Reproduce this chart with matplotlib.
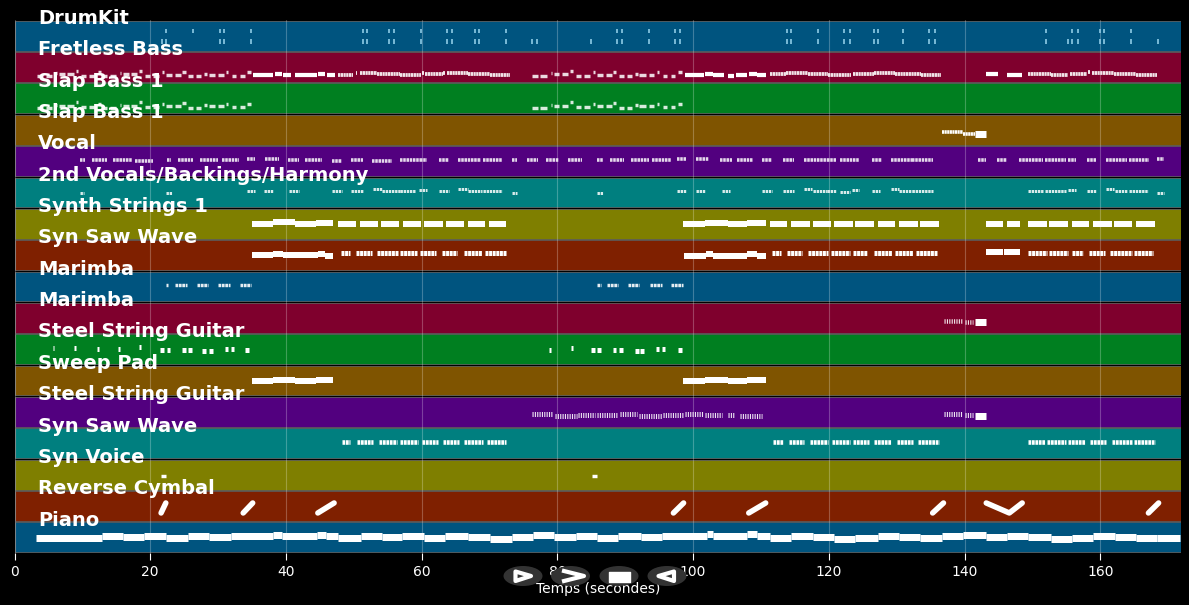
import matplotlib
matplotlib.use("Agg")
import matplotlib.pyplot as plt
from matplotlib.patches import Ellipse, Polygon, Rectangle

TRACK_NAMES = ["DrumKit", "Fretless Bass", "Slap Bass 1", "Slap Bass 1", "Vocal",
               "2nd Vocals/Backings/Harmony", "Synth Strings 1", "Syn Saw Wave", "Marimba",
               "Marimba", "Steel String Guitar", "Sweep Pad", "Steel String Guitar",
               "Syn Saw Wave", "Syn Voice", "Reverse Cymbal", "Piano"]
TRACK_COLORS = ["#00547f", "#7f002d", "#007f20", "#7f5400", "#52007f", "#007f7f", "#7f7f00", "#7f2000"]
X_TICKS = [0, 20, 40, 60, 80, 100, 120, 140, 160]
X_MAX = 171.9

DRUM_UPPER = [22.3, 26.3, 30.3, 30.9, 34.8, 51.3, 52.0, 55.2, 55.9, 59.9, 63.8, 64.5, 67.8, 68.5, 72.4,
              88.8, 89.5, 93.5, 97.4, 98.1, 113.9, 114.5, 118.4, 122.3, 123.1, 126.6, 127.3, 130.9,
              134.8, 135.6, 152.0, 155.9, 156.7, 160.0, 160.6, 164.5]
DRUM_LOWER = [21.7, 22.3, 30.3, 30.9, 34.8, 51.3, 52.0, 55.2, 55.9, 59.9, 63.8, 64.5, 67.8, 68.5, 72.4,
              76.3, 77.0, 84.9, 88.8, 89.5, 93.5, 97.4, 98.1, 113.9, 114.5, 118.4, 122.3, 123.1, 126.6,
              127.3, 130.9, 134.8, 135.6, 152.0, 155.3, 155.9, 156.7, 160.0, 160.6, 164.5, 168.5]

SLAP_NOTES = [
    (3.3, 4.2, -9.3), (4.6, 5.5, -9.3), (6.1, 6.3, -6.3), (6.6, 7.4, -7.3), (7.8, 8.7, -7.3), (9.0, 9.4, -4),
    (9.8, 10.6, -8.7), (11.0, 11.9, -8.7), (12.3, 12.7, -5.3),
    (12.7, 13.6, -9.3), (14.0, 14.9, -9.3), (15.5, 15.7, -6.3), (16.0, 16.8, -7.3), (17.2, 18.1, -7.3),
    (18.4, 18.8, -4), (19.2, 20.0, -8.7), (20.4, 21.3, -8.7), (21.7, 22.1, -5.3), (22.3, 23.2, -8), (23.6, 24.5, -8),
    (24.7, 25.2, -4.7), (25.6, 26.3, -9.3), (26.8, 27.5, -9.3), (27.9, 28.4, -7), (28.6, 29.5, -8), (30.0, 30.8, -8),
    (31.2, 31.5, -5.3), (32.0, 32.7, -8.7), (33.2, 33.9, -8.7), (34.3, 34.8, -5.3),
    (76.2, 77.1, -9.3), (77.5, 78.4, -9.3), (79.0, 79.2, -6.3), (79.5, 80.3, -7.3), (80.7, 81.6, -7.3), (81.9, 82.3, -4),
    (82.7, 83.5, -8.7), (83.9, 84.8, -8.7), (85.2, 85.6, -5.3), (85.8, 86.7, -8), (87.1, 88.0, -8), (88.2, 88.7, -4.7),
    (89.1, 89.8, -9.3), (90.3, 91.0, -9.3), (91.4, 91.9, -7), (92.1, 93.0, -8), (93.5, 94.3, -8), (94.7, 95.0, -5.3),
    (95.5, 96.2, -8.7), (96.7, 97.4, -8.7), (97.8, 98.3, -5.3),
]
FRETLESS_THICK = [(35.1, 38.1, -8), (38.4, 39.4, -7), (39.5, 40.7, -8), (41.3, 44.6, -8), (44.7, 45.7, -7),
                  (46.0, 47.2, -8), (98.8, 101.6, -8.3), (101.7, 102.9, -7), (103.0, 104.5, -8.3),
                  (105.1, 106.0, -8.6), (106.3, 108.0, -8.3), (108.2, 109.4, -7), (109.4, 110.8, -8.3),
                  (143.1, 145.0, -7), (146.2, 148.4, -8.3)]
FRETLESS_RUNS = [(47.6, 49.9, -8), (50.3, 50.5, -5.5), (50.9, 53.4, -6), (53.4, 56.8, -7), (56.8, 59.9, -8.3),
                 (60.0, 60.4, -6), (60.5, 63.1, -7), (63.1, 63.5, -5.5), (63.7, 66.8, -6), (66.8, 70.0, -7.3), (70.0, 73.0, -8.3),
                 (111.4, 113.7, -7), (113.7, 116.9, -6), (116.9, 119.9, -7), (119.9, 123.2, -8.3), (123.5, 126.7, -7),
                 (126.7, 129.8, -6), (129.8, 133.6, -7), (133.6, 136.6, -8.3), (149.4, 152.7, -7), (152.7, 155.3, -8.3),
                 (155.5, 158.1, -7), (158.2, 158.5, -4.5), (158.8, 162.1, -6), (162.1, 165.3, -7), (165.3, 168.3, -8.3)]
BRASS_RUN = [(136.7, 139.8, -2.5), (139.8, 141.6, -4.5)]
BRASS_HOLD = [(141.6, 143.2, -4.5)]

VOCAL_CLUSTERS = [(9.6, 10.4, 1), (11.4, 13.6, 1), (14.5, 17.3, 1), (17.7, 20.4, 0.5), (22.5, 23.0, 1), (24.1, 26.3, 1),
                  (27.3, 30.0, 1), (30.6, 33.1, 1), (34.2, 35.4, 2), (36.9, 39.0, 2), (40.3, 41.9, 1.5), (42.8, 45.3, 1.5),
                  (46.8, 48.2, 0.5), (49.6, 51.3, 1), (52.7, 55.7, 0.5), (56.8, 59.7, 1), (59.7, 60.8, 1), (62.5, 64.1, 1),
                  (65.3, 68.7, 1), (69.0, 71.8, 1), (73.3, 74.0, 1), (75.5, 77.1, 1), (78.3, 80.2, 1), (81.5, 83.6, 1),
                  (85.8, 86.7, 1), (87.7, 89.8, 1), (90.9, 93.5, 1), (94.0, 96.8, 1), (97.7, 99.0, 2), (100.5, 102.4, 2),
                  (104.0, 105.7, 1.5), (106.4, 108.9, 1.5), (110.2, 111.7, 1), (113.2, 114.9, 1), (116.3, 119.7, 1),
                  (119.8, 121.1, 1), (121.6, 124.5, 1), (126.3, 127.9, 1), (129.1, 132.2, 1), (132.3, 135.3, 1),
                  (142.0, 143.2, 1), (144.8, 146.2, 1), (148.1, 151.5, 1), (151.8, 155.0, 1), (155.2, 156.5, 1),
                  (158.1, 159.4, 1), (160.9, 164.0, 1), (164.3, 167.2, 1), (168.4, 169.4, 2)]
BACKING_CLUSTERS = [(9.6, 10.2, -0.5), (22.3, 23.2, -0.5), (34.2, 35.4, 1), (36.7, 38.1, 1.5), (40.4, 41.9, 1), (46.8, 48.2, 1),
                    (49.6, 51.3, 1), (52.8, 54.1, 3.5), (54.1, 56.8, 1), (56.8, 59.0, 1.5), (59.6, 60.8, 2.5), (62.5, 64.1, 1.5),
                    (65.3, 66.8, 3.5), (66.8, 68.9, 1.5), (69.0, 71.8, 1.5), (73.3, 74.0, -0.5), (85.8, 86.7, -0.5), (97.7, 99.0, 1),
                    (100.5, 101.7, 1.5), (104.2, 105.5, 1), (110.2, 111.7, 1), (113.2, 114.9, 1), (116.3, 117.5, 3.5),
                    (117.6, 119.7, 1.5), (119.8, 121.1, 1.5), (121.6, 123.1, 0.5), (123.4, 124.5, 2.5), (126.3, 127.5, 1.5),
                    (129.1, 130.3, 3.5), (130.4, 132.2, 1.5), (132.3, 135.3, 1.5), (149.4, 151.5, 1.5), (151.8, 155.0, 1.5),
                    (155.2, 156.4, 2.5), (158.1, 159.4, 1.5), (160.9, 162.1, 3.5), (162.2, 164.0, 1.5), (164.3, 167.0, 1.5),
                    (168.4, 169.4, -0.5)]
STRINGS_NOTES = [(35.0, 38.1, -0.2), (38.1, 41.3, 1.3), (41.3, 44.4, -0.2), (44.4, 46.9, 0.8), (47.6, 50.3, 0), (50.9, 53.5, 0),
                 (54.0, 56.6, 0), (57.2, 59.9, 0), (60.3, 63.1, 0), (63.6, 66.2, 0), (66.8, 69.4, 0), (69.9, 72.5, 0),
                 (98.5, 101.7, -0.2), (101.7, 105.1, 1), (105.1, 108.0, -0.2), (108.0, 110.7, 0.8), (111.3, 113.9, 0),
                 (114.4, 117.2, 0), (117.6, 120.3, 0), (120.8, 123.5, 0), (123.9, 126.6, 0), (127.2, 129.8, 0), (130.3, 133.1, 0),
                 (133.5, 136.2, 0), (143.1, 145.6, 0), (146.2, 148.2, 0), (149.4, 152.1, 0), (152.5, 155.2, 0), (155.8, 158.4, 0),
                 (159.0, 161.7, 0), (162.1, 164.7, 0), (165.3, 168.0, 0)]
SAW_SOLID = [(35.0, 38.1, 0), (38.1, 39.5, 1.5), (39.5, 44.7, 0), (44.7, 45.7, 1), (45.7, 46.9, -1), (98.7, 101.9, -0.5),
             (101.9, 102.9, 1), (102.9, 108.0, -0.5), (108.0, 109.4, 1), (109.4, 110.7, -0.5), (143.1, 145.6, 3), (145.8, 148.2, 3)]
SAW_CLUSTERS = [(48.1, 49.4, 2), (50.3, 52.7, 2), (53.4, 56.5, 2), (56.8, 59.3, 2), (59.7, 62.1, 2), (63.0, 65.2, 2), (66.2, 68.9, 2),
                (69.3, 72.4, 2), (111.7, 113.0, 2), (113.8, 116.1, 2), (117.0, 119.9, 2), (120.3, 123.1, 2), (123.5, 125.7, 2),
                (126.6, 129.3, 2), (129.7, 132.4, 2), (132.9, 135.9, 2), (149.4, 152.1, 2), (152.5, 155.2, 2), (155.9, 157.4, 2),
                (158.4, 160.7, 2), (161.5, 164.7, 2), (165.0, 167.8, 2)]
MARIMBA_CLUSTERS = [(22.3, 22.6, 2), (23.6, 25.4, 2), (26.9, 28.5, 2), (30.0, 31.7, 2), (33.2, 34.8, 2), (85.8, 86.4, 2),
                    (87.3, 88.9, 2), (90.4, 92.0, 2), (93.6, 95.4, 2), (96.8, 98.5, 2)]
MARIMBA2_TICKS = [(137.0, 139.7, -2.9), (140.0, 141.3, -4.2)]
MARIMBA2_HOLD = [(141.6, 143.2, -4.2)]
GUITAR_STARTS = [5.6, 8.8, 12.1, 15.2, 18.4, 21.5, 22.4, 24.7, 25.6, 27.7, 28.7, 31.0, 31.9, 34.0, 78.8, 82.0, 85.0, 85.9,
                 88.2, 89.1, 91.5, 92.2, 94.6, 95.4, 97.8]
GUITAR_ENDS = [5.8, 9.0, 12.4, 15.5, 18.6, 22.0, 22.9, 25.2, 26.1, 28.2, 29.2, 31.5, 32.4, 34.5, 79.1, 82.3, 85.5, 86.4,
               88.7, 89.6, 92.0, 92.7, 95.0, 95.8, 98.3]
GUITAR_LEVELS = [1.5, 1.5, 0, 0, 2, -1, -1, -1, -1, -1.5, -1.5, 0, 0, -1, -1, 1, -1, -0.5, -0.5, -0.5, -1.5, -1.5, 0, 0, -1]
SWEEP_NOTES = [(35.0, 38.1, -0.5), (38.1, 41.3, 0.5), (41.3, 44.4, -0.5), (44.4, 46.9, 0.5), (98.5, 101.7, -0.5),
               (101.7, 105.1, 0.5), (105.1, 108.0, -0.5), (108.0, 110.7, 0.5)]
GUITAR2_TICKS = [(76.2, 79.4, -2.4), (79.6, 82.9, -3.8), (83.0, 85.5, -3.1), (85.8, 88.9, -3.1), (89.2, 91.8, -2.4),
                 (92.1, 95.4, -3.8), (95.5, 98.5, -3.1), (98.8, 101.4, -2.4), (101.7, 104.3, -3.1), (105.2, 106.1, -3.1),
                 (106.9, 110.1, -3.6), (137.0, 139.7, -2), (140.0, 141.3, -3.5)]
GUITAR2_HOLD = [(141.6, 143.2, -4)]
SAW2_CLUSTERS = [(48.2, 49.4, 1.5), (50.4, 52.8, 1.5), (53.7, 56.3, 1.5), (56.8, 59.4, 1.5), (60.0, 62.4, 1.5), (63.1, 65.5, 1.5),
                 (66.3, 69.0, 1.5), (69.6, 72.5, 1.5), (111.8, 113.2, 1.5), (114.1, 116.4, 1.5), (117.2, 119.9, 1.5), (120.4, 123.1, 1.5),
                 (123.5, 125.9, 1.5), (126.7, 129.1, 1.5), (130.0, 132.4, 1.5), (133.1, 136.2, 1.5), (149.4, 151.8, 1.5),
                 (152.2, 155.0, 1.5), (155.3, 157.7, 1.5), (158.5, 160.9, 1.5), (161.8, 164.7, 1.5), (165.0, 168.0, 1.5)]
VOICE_NOTES = [(21.6, 22.3, -1.5), (85.1, 85.8, -1.5)]
CYMBAL_SWELLS_T = [[21.6, 22.3], [33.7, 35.1], [44.7, 47.1], [97.1, 98.6], [108.2, 110.7], [135.3, 136.9],
                   [143.2, 146.6, 148.5], [167.1, 168.6]]
CYMBAL_SWELLS_L = [[-7, 3], [-7, 3], [-7, 3], [-7, 3], [-7, 3], [-7, 3], [3, -7, 3], [-7, 3]]
PIANO_STARTS = [3.2, 12.9, 16.0, 19.1, 22.3, 25.6, 28.6, 31.9, 38.1, 39.4, 44.6, 45.9, 47.6, 51.0, 54.1, 57.1, 60.3, 63.4, 66.8,
                70.0, 73.3, 76.4, 79.5, 82.7, 85.8, 89.0, 92.3, 95.4, 102.0, 102.9, 108.0, 109.4, 111.3, 114.5, 117.6, 120.8,
                123.9, 127.3, 130.3, 133.5, 136.7, 139.8, 143.1, 146.2, 149.4, 152.7, 155.9, 159.0, 162.2, 165.3, 168.4]
PIANO_ENDS = PIANO_STARTS[1:] + [171.8]
PIANO_LEVELS = [-0.7, 1.6, 0, 1.6, -0.7, 1.6, 0, 1.6, 2.6, 1.3, 2.6, 1.6, -0.7, 1.6, 0, 1.6, -1, 1.6, 0, -1.2, 0.8, 2, 0.3, 1.6,
                -0.4, 1.3, 0, 1.6, 3, 1.6, 3, 1.6, -1, 1.6, 0.3, -1.4, -0.4, 1.6, 0.3, -1, 1.6, 2.6, 0, 1.3, 0.3, -1.4, -0.7, 1.6,
                0.3, -1, -0.4]

TRACK_PX = 533 / 17          # pixel height of one track
PT = 72 / 100                # pixels to points

fig = plt.figure(figsize=(11.89, 6.05), dpi=100, facecolor="black")
ax = fig.add_axes([14.5 / 1189, 52 / 605, (1181 - 14.5) / 1189, 533 / 605], facecolor="black")
ax.set_xlim(0, X_MAX)
ax.set_ylim(17, 0)

for i, name in enumerate(TRACK_NAMES):
    ax.add_patch(Rectangle((0, i + 0.025), X_MAX, 0.95, facecolor=TRACK_COLORS[i % 8], edgecolor="#707070",
                           linewidth=0.5, zorder=1))
    ax.text(3.47, i - 0.05, name, color="white", fontsize=14, fontweight="bold", va="center", ha="left",
            zorder=6, clip_on=False)

for t in X_TICKS:
    ax.axvline(t, color="white", alpha=0.25, linewidth=0.8, zorder=2)


def y_of(track, level):
    return track + 0.5 - level / TRACK_PX


def draw(track, notes, h, dash=None, alpha=1.0):
    ys = [y_of(track, n[2]) for n in notes]
    ls = "solid" if dash is None else (0, dash)
    ax.hlines(ys, [n[0] for n in notes], [n[1] for n in notes], colors="white", linewidth=h * PT,
              linestyles=ls, capstyle="butt", alpha=alpha, zorder=3)


DRUM_TONE = "#8ecbe6"
ax.vlines(DRUM_UPPER, y_of(0, 6.2), y_of(0, 2.2), colors=DRUM_TONE, linewidth=1.2, zorder=3)
ax.vlines(DRUM_LOWER, y_of(0, -3.8), y_of(0, -8), colors=DRUM_TONE, linewidth=1.2, zorder=3)

draw(1, SLAP_NOTES, 3.4, alpha=0.85)
draw(1, FRETLESS_THICK, 4.2)
draw(1, FRETLESS_RUNS, 3.8, dash=(0.6, 0.12), alpha=0.9)
draw(2, SLAP_NOTES, 3.4, alpha=0.85)
draw(3, BRASS_RUN, 3.6, dash=(0.6, 0.12))
draw(3, BRASS_HOLD, 7)
draw(4, VOCAL_CLUSTERS, 3.6, dash=(0.7, 0.2), alpha=0.85)
draw(5, BACKING_CLUSTERS, 3, dash=(0.8, 0.25), alpha=0.85)
draw(6, STRINGS_NOTES, 6)
draw(7, SAW_SOLID, 6)
draw(7, SAW_CLUSTERS, 5, dash=(0.6, 0.12))
draw(8, MARIMBA_CLUSTERS, 3.4, dash=(0.8, 0.2), alpha=0.9)
draw(9, MARIMBA2_TICKS, 4.5, dash=(0.25, 0.28), alpha=0.9)
draw(9, MARIMBA2_HOLD, 7)
draw(10, list(zip(GUITAR_STARTS, GUITAR_ENDS, GUITAR_LEVELS)), 5)
draw(11, SWEEP_NOTES, 6)
draw(12, GUITAR2_TICKS, 5, dash=(0.22, 0.25), alpha=0.9)
draw(12, GUITAR2_HOLD, 7)
draw(13, SAW2_CLUSTERS, 4.6, dash=(0.6, 0.15))
draw(14, VOICE_NOTES, 3.4)
for ts, ls_ in zip(CYMBAL_SWELLS_T, CYMBAL_SWELLS_L):
    ax.plot(ts, [y_of(15, v) for v in ls_], color="white", linewidth=5.5 * PT, solid_capstyle="round",
            solid_joinstyle="round", zorder=3)
draw(16, list(zip(PIANO_STARTS, PIANO_ENDS, PIANO_LEVELS)), 7)

ax.set_yticks([])
ax.set_xticks(X_TICKS)
ax.tick_params(axis="x", colors="white", labelsize=10, length=5, width=0.8)
for s in ax.spines.values():
    s.set_visible(False)
ax.set_xlabel("Temps (secondes)", color="white", fontsize=10, labelpad=2)


def fx(x):
    return x / 1189


def fy(y):
    return 1 - y / 605


# player-style controls over the axis title
CONTROL_CENTERS = [523, 570.5, 619, 667]
for cx in CONTROL_CENTERS:
    fig.add_artist(Ellipse((fx(cx), fy(576)), 39 / 1189, 20 / 605, facecolor="#333333", edgecolor="none",
                           transform=fig.transFigure, zorder=10))
def poly(points, closed, fill=False, lw=3):
    fig.add_artist(Polygon([(fx(a), fy(b)) for a, b in points], closed=closed, fill=fill, facecolor="white",
                           edgecolor="white", linewidth=lw, joinstyle="round", transform=fig.transFigure, zorder=11))
poly([(515.5, 571.5), (531, 576), (515.5, 581)], True)
poly([(562, 570.5), (584, 576), (562, 581.5)], False)
poly([(609, 572), (629.5, 572), (629.5, 581.5), (609, 581.5)], True, fill=True, lw=1)
poly([(674, 571.5), (658.5, 576), (674, 581)], True)

fig.savefig("out.png", dpi=100, facecolor="black")
